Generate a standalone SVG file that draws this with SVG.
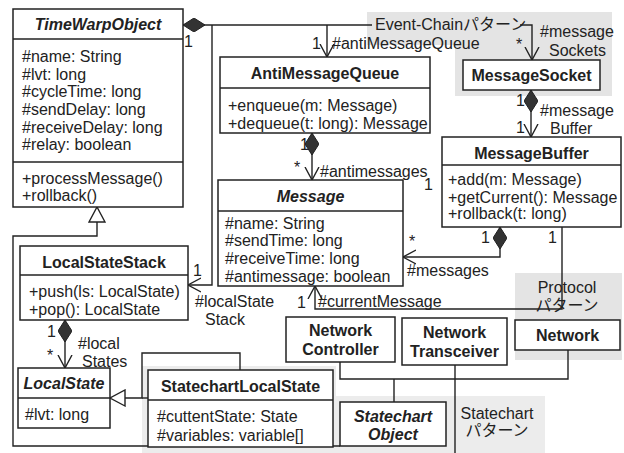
<svg xmlns="http://www.w3.org/2000/svg" width="624" height="453" viewBox="0 0 624 453">
<style>
text{font-family:"Liberation Sans","Noto Sans CJK JP",Arial,sans-serif;fill:#222;font-size:16px}
.t{font-weight:bold;text-anchor:middle}
.ti{font-weight:bold;font-style:italic;text-anchor:middle}
.c{text-anchor:middle}
.box{fill:#fff;stroke:#222;stroke-width:1.5}
.div{stroke:#222;stroke-width:1.3}
.ln{fill:none;stroke:#222;stroke-width:1.4}
.gray{fill:#e4e4e4}
</style>
<defs>
<marker id="arr" markerUnits="userSpaceOnUse" viewBox="0 0 14 16" refX="13" refY="8" markerWidth="14" markerHeight="16" orient="auto">
<path d="M0,1 L13,8 L0,15" fill="none" stroke="#222" stroke-width="1.4"/>
</marker>
<marker id="dia" markerUnits="userSpaceOnUse" viewBox="0 0 22 14" refX="0" refY="7" markerWidth="22" markerHeight="14" orient="auto">
<path d="M0,7 L11,0 L22,7 L11,14 Z" fill="#333" stroke="#222" stroke-width="1"/>
</marker>
<marker id="gen" markerUnits="userSpaceOnUse" viewBox="0 0 17 18" refX="16" refY="9" markerWidth="17" markerHeight="18" orient="auto">
<path d="M1,1 L16,9 L1,17 Z" fill="#fff" stroke="#222" stroke-width="1.4"/>
</marker>
</defs>
<rect width="624" height="453" fill="#fff"/>
<g id="pattern-areas">
<path class="gray" d="M367,12 L612,12 L612,96 L455,96 L455,45 L367,45 Z"/>
<rect class="gray" x="515" y="273" width="107" height="87"/>
<path class="gray" d="M142,366 L336,366 L336,396 L545,396 L545,453 L142,453 Z" opacity="0.7"/>
</g>
<g id="connectors">
<path class="ln" d="M183,25 L372,25" marker-start="url(#dia)"/>
<path class="ln" d="M520,25 L532,25 L532,60" marker-end="url(#arr)"/>
<path class="ln" d="M327,25 L327,57" marker-end="url(#arr)"/>
<path class="ln" d="M212,25 L212,285 L188,285" marker-end="url(#arr)"/>
<path class="ln" d="M312,133 L312,180" marker-start="url(#dia)" marker-end="url(#arr)"/>
<path class="ln" d="M531,90 L531,137" marker-start="url(#dia)" marker-end="url(#arr)"/>
<path class="ln" d="M500,227 L500,257 L403,257" marker-start="url(#dia)" marker-end="url(#arr)"/>
<path class="ln" d="M562,227 L562,309 L315,309 L315,286" marker-end="url(#arr)"/>
<path class="ln" d="M65,320 L65,368" marker-start="url(#dia)" marker-end="url(#arr)"/>
<path class="ln" d="M340,446 L13,446 L13,236 L97,236 L97,207" marker-end="url(#gen)"/>
<path class="ln" d="M240,370 L240,353 L142,353 L142,398 L110,398" marker-end="url(#gen)"/>
<path class="ln" d="M142,398 L148,398"/>
<path class="ln" d="M340,362 L340,379 L568,379 L568,350"/>
<path class="ln" d="M394,379 L394,402"/>
<path class="ln" d="M455,365 L455,453"/>
</g>
<g id="labels">
<text x="375" y="30">Event-Chainパターン</text>
<text x="184" y="47">1</text>
<text x="312" y="49">1</text>
<text x="332" y="49">#antiMessageQueue</text>
<text x="516" y="50">*</text>
<text x="540" y="37">#message</text>
<text x="549" y="56">Sockets</text>
<text x="516" y="106">1</text>
<text x="516" y="133">1</text>
<text x="540" y="116">#message</text>
<text x="550" y="134">Buffer</text>
<text x="300" y="150">1</text>
<text x="294" y="173">*</text>
<text x="320" y="177">#antimessages</text>
<text x="424" y="190">1</text>
<text x="481" y="243">1</text>
<text x="548" y="243">1</text>
<text x="409" y="247">*</text>
<text x="407" y="276">#messages</text>
<text x="297" y="308">1</text>
<text x="318" y="307">#currentMessage</text>
<text x="193" y="276">1</text>
<text x="195" y="307">#localState</text>
<text x="205" y="325">Stack</text>
<text x="47" y="337">1</text>
<text x="47" y="361">*</text>
<text x="78" y="349">#local</text>
<text x="82" y="367">States</text>
<text class="c" x="567" y="293">Protocol</text>
<text class="c" x="567" y="311" font-size="14">パターン</text>
<text class="c" x="497" y="419">Statechart</text>
<text class="c" x="497" y="436" font-size="14">パターン</text>
</g>
<g id="TimeWarpObject">
<rect class="box" x="13" y="9" width="170" height="198"/>
<line class="div" x1="13" y1="39" x2="183" y2="39"/>
<line class="div" x1="13" y1="162" x2="183" y2="162"/>
<text class="ti" x="98" y="30">TimeWarpObject</text>
<text x="22" y="62">#name: String</text>
<text x="22" y="80">#lvt: long</text>
<text x="22" y="97">#cycleTime: long</text>
<text x="22" y="115">#sendDelay: long</text>
<text x="22" y="133">#receiveDelay: long</text>
<text x="22" y="150">#relay: boolean</text>
<text x="22" y="184">+processMessage()</text>
<text x="22" y="201">+rollback()</text>
</g>
<g id="AntiMessageQueue">
<rect class="box" x="220" y="57" width="210" height="76"/>
<line class="div" x1="220" y1="88" x2="430" y2="88"/>
<text class="t" x="325" y="79">AntiMessageQueue</text>
<text x="228" y="111">+enqueue(m: Message)</text>
<text x="228" y="129">+dequeue(t: long): Message</text>
</g>
<g id="MessageSocket">
<rect class="box" x="463" y="60" width="137" height="30"/>
<text class="t" x="531.5" y="81">MessageSocket</text>
</g>
<g id="MessageBuffer">
<rect class="box" x="442" y="137" width="179" height="90"/>
<line class="div" x1="442" y1="165" x2="621" y2="165"/>
<text class="t" x="531.5" y="159">MessageBuffer</text>
<text x="448" y="185">+add(m: Message)</text>
<text x="448" y="203">+getCurrent(): Message</text>
<text x="448" y="219">+rollback(t: long)</text>
</g>
<g id="Message">
<rect class="box" x="218" y="180" width="185" height="106"/>
<line class="div" x1="218" y1="211" x2="403" y2="211"/>
<text class="ti" x="310.5" y="202">Message</text>
<text x="225" y="229">#name: String</text>
<text x="225" y="246">#sendTime: long</text>
<text x="225" y="264">#receiveTime: long</text>
<text x="225" y="282">#antimessage: boolean</text>
</g>
<g id="LocalStateStack">
<rect class="box" x="20" y="246" width="168" height="74"/>
<line class="div" x1="20" y1="275" x2="188" y2="275"/>
<text class="t" x="104" y="268">LocalStateStack</text>
<text x="29" y="297">+push(ls: LocalState)</text>
<text x="29" y="315">+pop(): LocalState</text>
</g>
<g id="LocalState">
<rect class="box" x="18" y="368" width="92" height="60"/>
<line class="div" x1="18" y1="398" x2="110" y2="398"/>
<text class="ti" x="64" y="389">LocalState</text>
<text x="25" y="420">#lvt: long</text>
</g>
<g id="StatechartLocalState">
<rect class="box" x="148" y="370" width="185" height="77"/>
<line class="div" x1="148" y1="400" x2="333" y2="400"/>
<text class="t" x="240.5" y="392">StatechartLocalState</text>
<text x="157" y="422">#cuttentState: State</text>
<text x="157" y="441">#variables: variable[]</text>
</g>
<g id="NetworkController">
<rect class="box" x="286" y="317" width="109" height="45"/>
<text class="t" x="340.5" y="336">Network</text>
<text class="t" x="340.5" y="355">Controller</text>
</g>
<g id="NetworkTransceiver">
<rect class="box" x="402" y="318" width="105" height="47"/>
<text class="t" x="454.5" y="338">Network</text>
<text class="t" x="454.5" y="357">Transceiver</text>
</g>
<g id="Network">
<rect class="box" x="515" y="320" width="105" height="30"/>
<text class="t" x="567.5" y="341">Network</text>
</g>
<g id="StatechartObject">
<rect class="box" x="340" y="402" width="106" height="44"/>
<text class="ti" x="393" y="422">Statechart</text>
<text class="ti" x="393" y="440">Object</text>
</g>
</svg>
